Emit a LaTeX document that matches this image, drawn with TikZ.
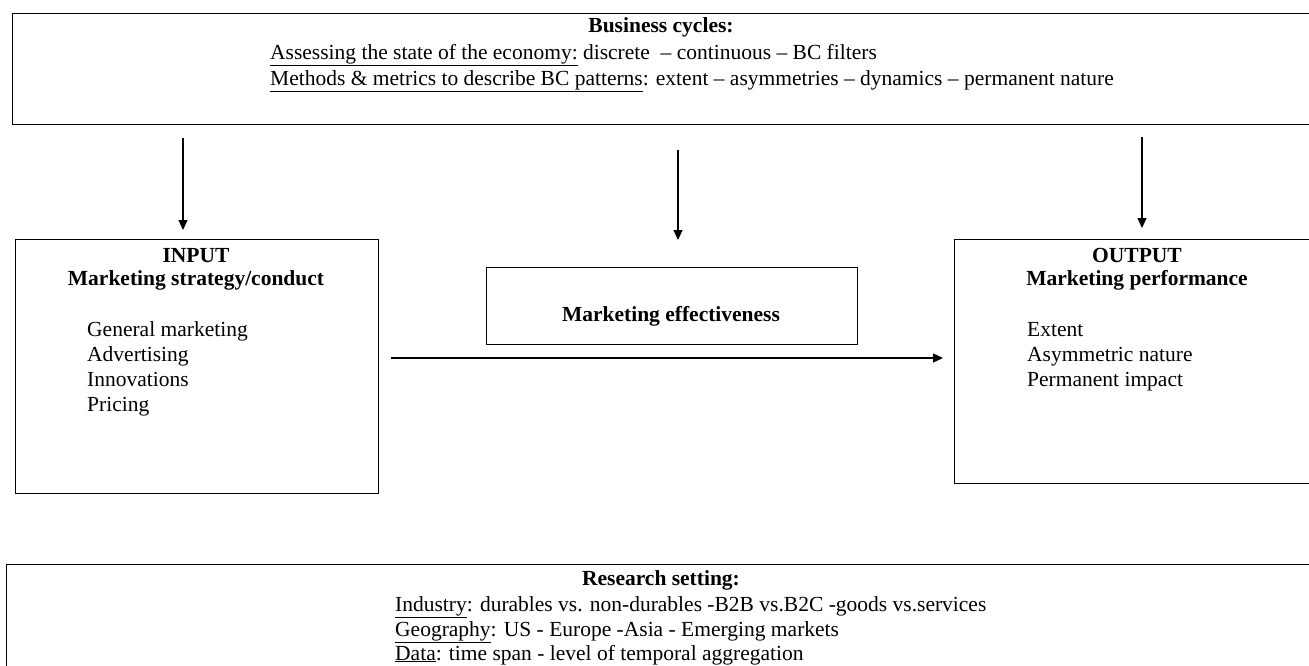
\documentclass[tikz,border=0pt]{standalone}
\usepackage{fontspec}
\setmainfont{Liberation Serif}
\usetikzlibrary{arrows.meta}
\begin{document}
\begin{tikzpicture}[x=1pt,y=-1pt,
  box/.style={draw, line width=1.3pt, inner sep=0pt, anchor=north west},
  txt/.style={inner sep=0pt, font=\fontsize{21.5}{22}\selectfont},
  conn/.style={line width=1.1pt, -{Triangle[length=10pt,width=9pt]}}]
\useasboundingbox (0,0) rectangle (1309,665);
% boxes
\node[box, minimum width=1310pt, minimum height=111pt] (top) at (12,13) {};
\node[box, minimum width=363pt, minimum height=254pt] (input) at (15,239) {};
\node[box, minimum width=371pt, minimum height=77pt] (eff) at (486,267) {};
\node[box, minimum width=370pt, minimum height=244pt] (output) at (954,239) {};
\node[box, minimum width=1320pt, minimum height=120pt] (bottom) at (6,564) {};
% top box text
\node[txt, anchor=base] (bc) at (661,32) {\textbf{Business cycles:}};
\node[txt, anchor=base west] (bc1) at (270,59) {\underline{Assessing the state of the economy:} discrete \ – continuous – BC filters};
\node[txt, anchor=base west] (bc2) at (270,85) {\underline{Methods \& metrics to describe BC patterns}: extent – asymmetries – dynamics – permanent nature};
% input
\node[txt, anchor=base] (inh) at (196,262) {\textbf{INPUT}};
\node[txt, anchor=base] (inh2) at (196,285) {\textbf{Marketing strategy/conduct}};
\node[txt, anchor=base west] (in1) at (87,336) {General marketing};
\node[txt, anchor=base west] (in2) at (87,361) {Advertising};
\node[txt, anchor=base west] (in3) at (87,386) {Innovations};
\node[txt, anchor=base west] (in4) at (87,411) {Pricing};
% effectiveness
\node[txt, anchor=base] (efft) at (671,321) {\textbf{Marketing effectiveness}};
% output
\node[txt, anchor=base] (outh) at (1137,262) {\textbf{OUTPUT}};
\node[txt, anchor=base] (outh2) at (1137,285) {\textbf{Marketing performance}};
\node[txt, anchor=base west] (out1) at (1027,336) {Extent};
\node[txt, anchor=base west] (out2) at (1027,361) {Asymmetric nature};
\node[txt, anchor=base west] (out3) at (1027,386) {Permanent impact};
% research setting
\node[txt, anchor=base] (rs) at (661,585) {\textbf{Research setting:}};
\node[txt, anchor=base west] (rs1) at (395,611) {\underline{Industry}: durables vs. non-durables -B2B vs.B2C -goods vs.services};
\node[txt, anchor=base west] (rs2) at (395,636) {\underline{Geography}: US - Europe -Asia - Emerging markets};
\node[txt, anchor=base west] (rs3) at (395,660) {\underline{Data}: time span - level of temporal aggregation};
% connectors
\coordinate (a1s) at (183,138); \coordinate (a1e) at (183,230);
\coordinate (a2s) at (678,150); \coordinate (a2e) at (678,240);
\coordinate (a3s) at (1142,137); \coordinate (a3e) at (1142,228);
\coordinate (hs) at (391,358); \coordinate (he) at (943,358);
\draw[conn] (a1s) -- (a1e);
\draw[conn] (a2s) -- (a2e);
\draw[conn] (a3s) -- (a3e);
\draw[conn] (hs) -- (he);
\end{tikzpicture}
\end{document}
